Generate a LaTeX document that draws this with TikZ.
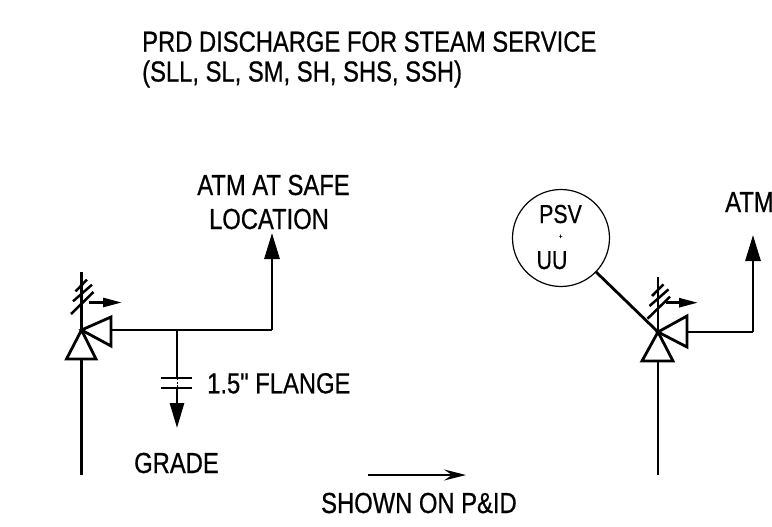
\documentclass[tikz,border=0pt]{standalone}
\usepackage{fontspec}
\setmainfont{Liberation Sans}[FakeStretch=0.82, FakeBold=0.6]
\newfontfamily\nomapfont{Liberation Sans}[FakeStretch=0.82, FakeBold=0.6, Ligatures=ResetAll]
\usetikzlibrary{arrows.meta,calc}
\begin{document}
\begin{tikzpicture}[x=1pt,y=-1pt,
  pipe/.style={line width=2.8pt},
  valvetri/.style={line width=2.8pt, fill=white, line join=miter},
  bigtip/.style={-{Triangle[length=26pt,width=15pt]}},
  smalltip/.style={-{Triangle[length=19pt,width=9pt]}},
  lbl/.style={inner sep=0pt, font=\fontsize{29}{31}\selectfont},
  circlbl/.style={inner sep=0pt, font=\fontsize{26}{28}\selectfont}]
\useasboundingbox (0,0) rectangle (772,527);
\clip (0,0) rectangle (772,527);

% title
\node[lbl, anchor=base west] (t1) at (142,51.7) {PRD DISCHARGE FOR STEAM SERVICE};
\node[lbl, anchor=base west] (t2) at (142,81.5) {(SLL, SL, SM, SH, SHS, SSH)};

% ---------- left valve ----------
\coordinate (L) at (81.5,330);
\coordinate (Lin) at (81.5,475);
\coordinate (Lbot) at (81.5,359);
\coordinate (Lside) at (111,330);
\coordinate (Ltop) at (81.5,272);
\coordinate (Lj) at (177,330);
\coordinate (Lc) at (272,330);
\coordinate (Ltip) at (272,233);
\coordinate (Lf1) at (177,378);
\coordinate (Lf2) at (177,388);
\coordinate (Lgtip) at (177,428);
\coordinate (Las) at (89,302.5);
\coordinate (Lae) at (122,302.5);

\draw[pipe] (Lin) -- (Lbot);
\draw[pipe] (L) -- (Ltop);
\draw[pipe, line width=2.5pt] ($(L)+(-6,-38.7)$) -- ($(L)+(5.5,-50.3)$);
\draw[pipe, line width=2.5pt] ($(L)+(-8.5,-28.7)$) -- ($(L)+(10.5,-45.3)$);
\draw[pipe, line width=2.5pt] ($(L)+(-10.5,-16)$) -- ($(L)+(12,-38)$);
\draw[valvetri] (L) -- ($(L)+(-15,29)$) -- ($(L)+(14.5,29)$) -- cycle;
\draw[valvetri] (L) -- ($(L)+(29.5,-13)$) -- ($(L)+(29.5,16)$) -- cycle;
\draw[pipe, smalltip] (Las) -- (Lae);
\draw[pipe] (Lside) -- (Lc);
\draw[pipe, bigtip] (Lc) -- (Ltip);
\draw[pipe] (Lj) -- (Lf1);
\draw[pipe] (161,378) -- (192,378);
\draw[pipe] (161,388) -- (192,388);
\draw[line width=0.8pt, dash pattern=on 2pt off 1.5pt] (Lf1) -- (Lf2);
\draw[pipe, -{Triangle[length=25pt,width=14pt]}] (Lf2) -- (Lgtip);

\node[lbl, anchor=base] (atm1) at (273.5,195) {ATM AT SAFE};
\node[lbl, anchor=base] (atm2) at (269,229) {LOCATION};
\node[lbl, anchor=base west] (fl) at (207,393.3) {\nomapfont 1.5" FLANGE};
\node[lbl, anchor=base west] (gr) at (134,473) {GRADE};

% ---------- shown on P&ID ----------
\coordinate (Sa) at (368,475);
\coordinate (Sb) at (466,475);
\draw[line width=1.3pt, -{Stealth[length=22pt,width=11pt,inset=8pt]}] (Sa) -- (Sb);
\node[lbl, anchor=base west] (sh) at (321,513) {SHOWN ON P\&ID};

% ---------- right valve ----------
\coordinate (R) at (658,332);
\coordinate (Rin) at (658,475);
\coordinate (Rbot) at (658,361);
\coordinate (Rside) at (687,332);
\coordinate (Rtop) at (658,277);
\coordinate (Rc) at (753,332);
\coordinate (Rtip) at (753,235);
\coordinate (Ras) at (666,302.7);
\coordinate (Rae) at (698,302.7);

\node[circle, draw, line width=1.2pt, minimum size=97pt, inner sep=0pt] (psv) at (561,238) {};
\node[circlbl, anchor=base] (psvt) at (560.5,223) {PSV};
\node[inner sep=0pt, font=\fontsize{7}{7}\selectfont] (plus) at (560.7,236.7) {+};
\node[circlbl, anchor=base] (uut) at (552,269) {UU};

\draw[pipe] (Rin) -- (Rbot);
\draw[pipe] (R) -- (Rtop);
\draw[pipe, line width=2.5pt] ($(R)+(-6,-36)$) -- ($(R)+(5.5,-47.6)$);
\draw[pipe, line width=2.5pt] ($(R)+(-8.5,-26)$) -- ($(R)+(10.5,-42.6)$);
\draw[pipe, line width=2.5pt] ($(R)+(-10.5,-13.3)$) -- ($(R)+(12,-35.3)$);
\draw[pipe] (psv) -- (R);
\draw[valvetri] (R) -- ($(R)+(-16,29)$) -- ($(R)+(15,29)$) -- cycle;
\draw[valvetri] (R) -- ($(R)+(29,-16)$) -- ($(R)+(29,15)$) -- cycle;
\draw[pipe, smalltip] (Ras) -- (Rae);
\draw[pipe] (Rside) -- (Rc);
\draw[pipe, bigtip] (Rc) -- (Rtip);
\node[lbl, anchor=base west] (atm3) at (725,212) {ATM};
\end{tikzpicture}
\end{document}
